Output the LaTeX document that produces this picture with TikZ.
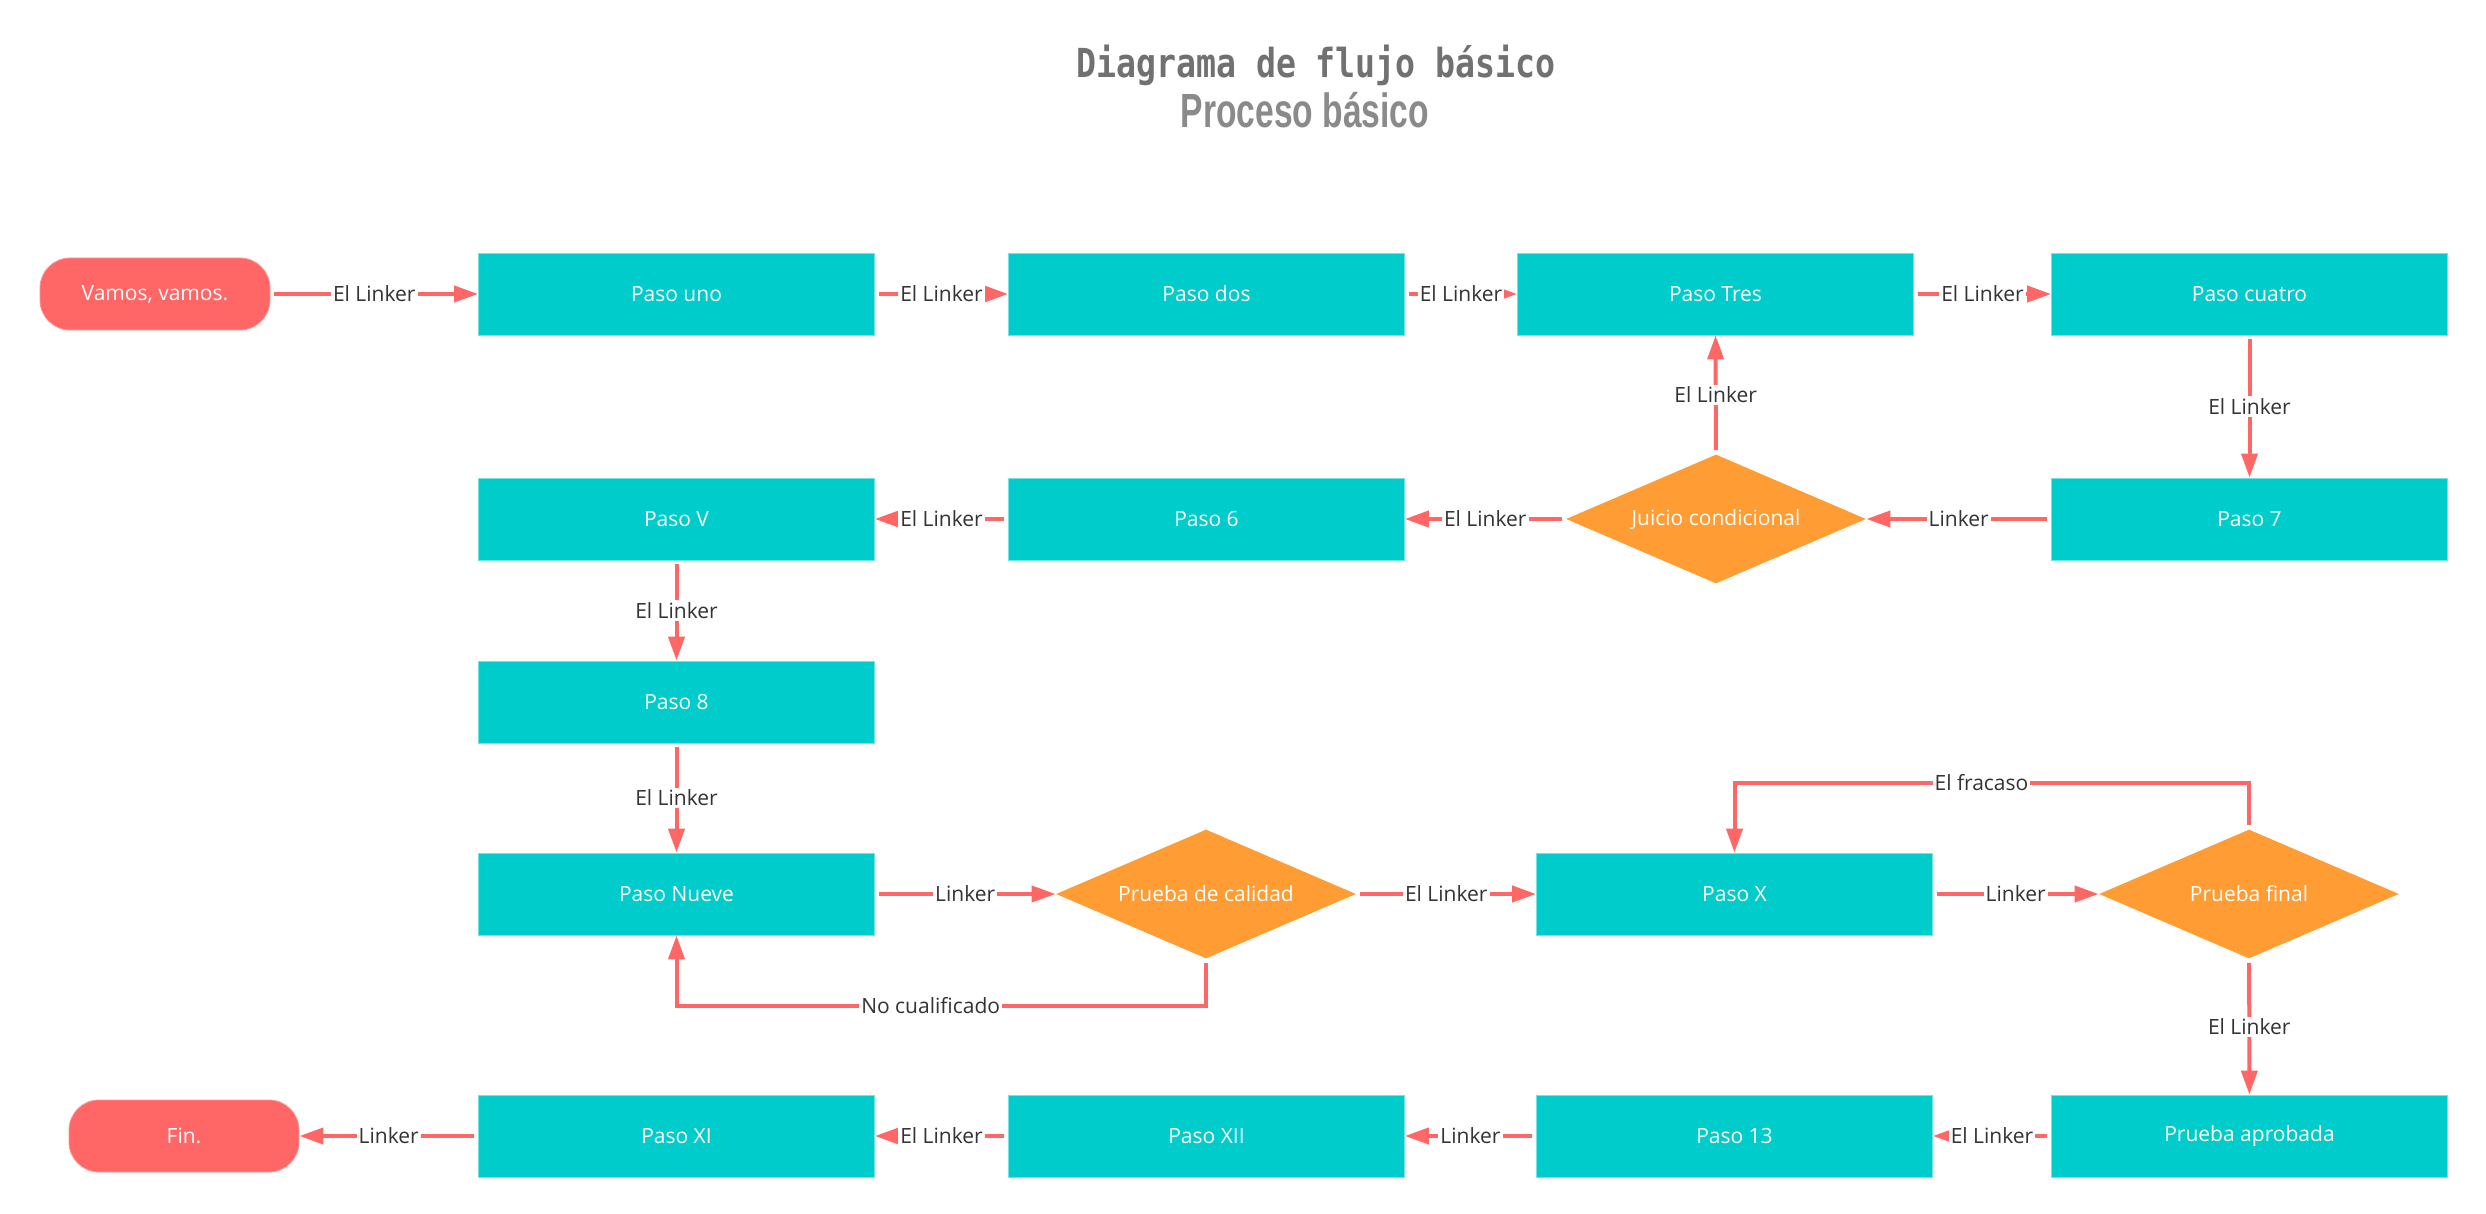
\documentclass[tikz,border=0pt]{standalone}
\usepackage{fontspec}
\setmainfont{Open Sans}
\newfontfamily\titlefont{DejaVu Sans Mono}
\newfontfamily\subfont{Liberation Sans}
\usetikzlibrary{arrows.meta,shapes.geometric}
\definecolor{teal0}{HTML}{00CCCC}
\definecolor{red0}{HTML}{FF6666}
\definecolor{orange0}{HTML}{FF9C33}
\definecolor{lbl0}{HTML}{333333}
\definecolor{title0}{HTML}{717171}
\definecolor{sub0}{HTML}{8A8A8A}
\begin{document}
\begin{tikzpicture}[x=0.5pt,y=-0.5pt,
  txt/.style={font=\fontsize{10.5}{12}\selectfont},
  box/.style={txt, rectangle, fill=teal0, draw=teal0!55!white, line width=0.4pt,
    minimum width=198pt, minimum height=41pt, inner sep=0pt, text=white},
  term/.style={txt, rectangle, rounded corners=15pt, fill=red0, draw=red0!70!white, line width=0.4pt,
    minimum width=115pt, minimum height=36pt, inner sep=0pt, text=white},
  dec/.style={txt, diamond, shape aspect=2.33, fill=orange0, minimum width=150pt,
    minimum height=64.5pt, inner sep=0pt, text=white},
  conn/.style={draw=red0, line width=2pt, -{Triangle[length=12pt,width=8pt]}, shorten <=2pt},
  lbl/.style={txt, fill=white, text=lbl0, inner sep=1pt}]
\useasboundingbox (0,0) rectangle (2486,1214);

% titles
\node[text=title0, font=\titlefont\bfseries\fontsize{20}{24}\selectfont] (title) at (1316,65)
  {\scalebox{0.83}[1]{Diagrama de flujo básico}};
\node[text=sub0, font=\subfont\bfseries\fontsize{24}{28}\selectfont] (subtitle) at (1305,110)
  {\scalebox{0.7}[1]{Proceso básico}};

% nodes
\node[term] (start) at (155,294) {Vamos, vamos.};
\node[box] (p1) at (676.5,294) {Paso uno};
\node[box] (p2) at (1206.5,294) {Paso dos};
\node[box] (p3) at (1715.5,294) {Paso Tres};
\node[box] (p4) at (2249.5,294) {Paso cuatro};

\node[box] (pV) at (676.5,519) {Paso V};
\node[box] (p6) at (1206.5,519) {Paso 6};
\node[dec] (jc) at (1716,519) {Juicio condicional};
\node[box] (p7) at (2249.5,519) {Paso 7};

\node[box] (p8) at (676.5,702) {Paso 8};

\node[box] (p9) at (676.5,894) {Paso Nueve};
\node[dec] (pc) at (1206,894) {Prueba de calidad};
\node[box] (pX) at (1734.5,894) {Paso X};
\node[dec] (pf) at (2249,894) {Prueba final};

\node[term] (fin) at (184,1136) {Fin.};
\node[box] (pXI) at (676.5,1136) {Paso XI};
\node[box] (pXII) at (1206.5,1136) {Paso XII};
\node[box] (p13) at (1734.5,1136) {Paso 13};
\node[box] (pa) at (2249.5,1136) {Prueba aprobada};

\coordinate (nq) at (1206,1006);
\coordinate (fq) at (2249,783);

% connectors
\draw[conn] (start) -- node[lbl]{El Linker} (p1);
\draw[conn] (p1) -- node[lbl]{El Linker} (p2);
\draw[conn] (p2) -- node[lbl]{El Linker} (p3);
\draw[conn] (p3) -- node[lbl]{El Linker} (p4);
\draw[conn] (p4) -- node[lbl]{El Linker} (p7);
\draw[conn] (p7) -- node[lbl]{Linker} (jc);
\draw[conn] (jc) -- node[lbl]{El Linker} (p3);
\draw[conn] (jc) -- node[lbl]{El Linker} (p6);
\draw[conn] (p6) -- node[lbl]{El Linker} (pV);
\draw[conn] (pV) -- node[lbl]{El Linker} (p8);
\draw[conn] (p8) -- node[lbl]{El Linker} (p9);
\draw[conn] (p9) -- node[lbl]{Linker} (pc);
\draw[conn] (pc.south) -- (nq) -| node[lbl,pos=0.26]{No cualificado} (p9.south);
\draw[conn] (pc) -- node[lbl]{El Linker} (pX);
\draw[conn] (pX) -- node[lbl]{Linker} (pf);
\draw[conn] (pf.north) -- (fq) -| node[lbl,pos=0.26]{El fracaso} (pX.north);
\draw[conn] (pf) -- node[lbl]{El Linker} (pa);
\draw[conn] (pa) -- node[lbl]{El Linker} (p13);
\draw[conn] (p13) -- node[lbl]{Linker} (pXII);
\draw[conn] (pXII) -- node[lbl]{El Linker} (pXI);
\draw[conn] (pXI) -- node[lbl]{Linker} (fin);
\end{tikzpicture}
\end{document}
